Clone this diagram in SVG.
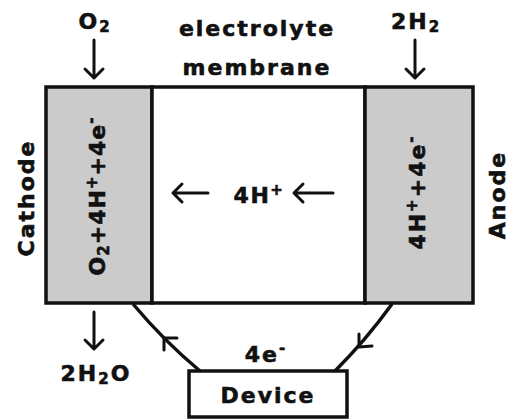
<svg xmlns="http://www.w3.org/2000/svg" width="511" height="419" viewBox="0 0 511 419">
<style>
text{font-family:"DejaVu Sans","Verdana",sans-serif;font-weight:bold;fill:#111;stroke:#111;stroke-width:0.6;letter-spacing:2px}
.lbl{font-size:22px}
.sub{font-size:15px}
.box{stroke:#111;stroke-width:3.5}
.arr{fill:none;stroke:#111;stroke-width:3;stroke-linecap:round;stroke-linejoin:round}
.wire{fill:none;stroke:#111;stroke-width:3.5}
</style>
<rect width="511" height="419" fill="#fff"/>
<g id="cathode">
<rect class="box" x="46" y="87" width="106" height="216" fill="#cbcbcb"/>
<text class="lbl" transform="translate(105,196) rotate(-90)" text-anchor="middle" style="letter-spacing:1px">O<tspan class="sub" dy="4">2</tspan><tspan dy="-4">+4H</tspan><tspan class="sub" dy="-8">+</tspan><tspan dy="8">+4e</tspan><tspan class="sub" dy="-9">-</tspan></text>
</g>
<g id="membrane">
<rect class="box" x="152" y="87" width="213" height="216" fill="#fff"/>
<text class="lbl" x="259" y="203" text-anchor="middle" style="letter-spacing:1.5px">4H<tspan class="sub" dy="-8">+</tspan></text>
</g>
<g id="anode">
<rect class="box" x="365" y="87" width="108" height="216" fill="#cbcbcb"/>
<text class="lbl" transform="translate(425,192) rotate(-90)" text-anchor="middle">4H<tspan class="sub" dy="-8">+</tspan><tspan dy="8">+4e</tspan><tspan class="sub" dy="-9">-</tspan></text>
</g>
<g id="device">
<rect class="box" x="189" y="371" width="158" height="46" fill="#fff"/>
<text class="lbl" x="268" y="403" text-anchor="middle">Device</text>
</g>
<g id="labels">
<text class="lbl" x="95" y="29" text-anchor="middle">O<tspan class="sub" dy="3">2</tspan></text>
<text class="lbl" x="416" y="29" text-anchor="middle">2H<tspan class="sub" dy="3">2</tspan></text>
<text class="lbl" x="257" y="36" text-anchor="middle">electrolyte</text>
<text class="lbl" x="257" y="75" text-anchor="middle">membrane</text>
<text class="lbl" transform="translate(34,198) rotate(-90)" text-anchor="middle">Cathode</text>
<text class="lbl" transform="translate(505,195) rotate(-90)" text-anchor="middle">Anode</text>
<text class="lbl" x="96" y="381" text-anchor="middle">2H<tspan class="sub" dy="3">2</tspan><tspan dy="-3">O</tspan></text>
<text class="lbl" x="266" y="362" text-anchor="middle">4e<tspan class="sub" dy="-9">-</tspan></text>
</g>
<g id="connectors">
<path class="arr" d="M94 40V78M85 69L94 78L103 69"/>
<path class="arr" d="M415 40V78M406 69L415 78L424 69"/>
<path class="arr" d="M94 312V349M85 340L94 349L103 340"/>
<path class="arr" d="M173 193H208M182 184L173 193L182 202"/>
<path class="arr" d="M294 193H333M303 184L294 193L303 202"/>
<path class="wire" d="M133 304Q164 341 200 371"/>
<path class="arr" d="M177 338L164 338L164 350"/>
<path class="wire" d="M392 304Q366 340 335 371"/>
<path class="arr" d="M359 334L359 347L372 346"/>
</g>
</svg>
